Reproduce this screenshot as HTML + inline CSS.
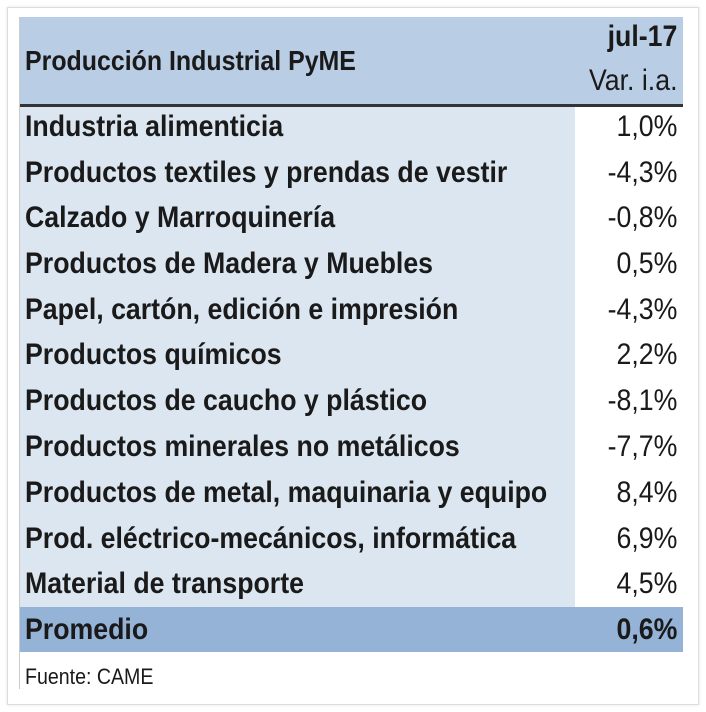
<!DOCTYPE html>
<html><head><meta charset="utf-8"><style>
body{margin:0;width:706px;height:712px;background:#fff;position:relative;overflow:hidden;font-family:"Liberation Sans",sans-serif;color:#1a1a1a}
.frame{position:absolute;left:7px;top:7px;width:690px;height:696px;border:1px solid #ddd;box-shadow:0 0 3px #e4e4e4}
.hdr{position:absolute;left:20px;top:17px;width:663px;height:87px;background:#b9cde5}
.line{position:absolute;left:20px;top:104px;width:663px;height:3px;background:#333}
.lc{position:absolute;left:20px;top:107px;width:555px;height:500px;background:#dce6f1}
.vl{position:absolute;left:19px;top:17px;width:1px;height:672px;background:#ccc}
.t{position:absolute;white-space:nowrap;font-size:30px;line-height:30px}
.l{left:25px;transform:scaleX(0.89);transform-origin:left center;font-weight:bold}
.r{right:29px;text-align:right;transform:scaleX(0.89);transform-origin:right center}
.prom{position:absolute;left:20px;top:607px;width:663px;height:45px;background:#95b3d7}
</style></head><body>
<div class="frame"></div>
<div class="hdr"></div>
<div class="lc"></div>
<div class="prom"></div>
<div class="line"></div>
<div class="vl"></div>
<div class="t l" style="top:46px;font-size:28px">Producción Industrial PyME</div>
<div class="t r" style="top:22px;font-weight:bold">jul-17</div>
<div class="t r" style="top:66px">Var. i.a.</div>

<div class="t l" style="top:112px">Industria alimenticia</div><div class="t r" style="top:112px">1,0%</div>
<div class="t l" style="top:158px">Productos textiles y prendas de vestir</div><div class="t r" style="top:158px">-4,3%</div>
<div class="t l" style="top:203px">Calzado y Marroquinería</div><div class="t r" style="top:203px">-0,8%</div>
<div class="t l" style="top:249px">Productos de Madera y Muebles</div><div class="t r" style="top:249px">0,5%</div>
<div class="t l" style="top:295px">Papel, cartón, edición e impresión</div><div class="t r" style="top:295px">-4,3%</div>
<div class="t l" style="top:340px">Productos químicos</div><div class="t r" style="top:340px">2,2%</div>
<div class="t l" style="top:386px">Productos de caucho y plástico</div><div class="t r" style="top:386px">-8,1%</div>
<div class="t l" style="top:432px">Productos minerales no metálicos</div><div class="t r" style="top:432px">-7,7%</div>
<div class="t l" style="top:478px">Productos de metal, maquinaria y equipo</div><div class="t r" style="top:478px">8,4%</div>
<div class="t l" style="top:524px">Prod. eléctrico-mecánicos, informática</div><div class="t r" style="top:524px">6,9%</div>
<div class="t l" style="top:569px">Material de transporte</div><div class="t r" style="top:569px">4,5%</div>
<div class="t l" style="top:615px">Promedio</div><div class="t r" style="top:615px;font-weight:bold">0,6%</div>
<div class="t l" style="top:662px;font-size:22px;font-weight:normal">Fuente: CAME</div>
</body></html>
